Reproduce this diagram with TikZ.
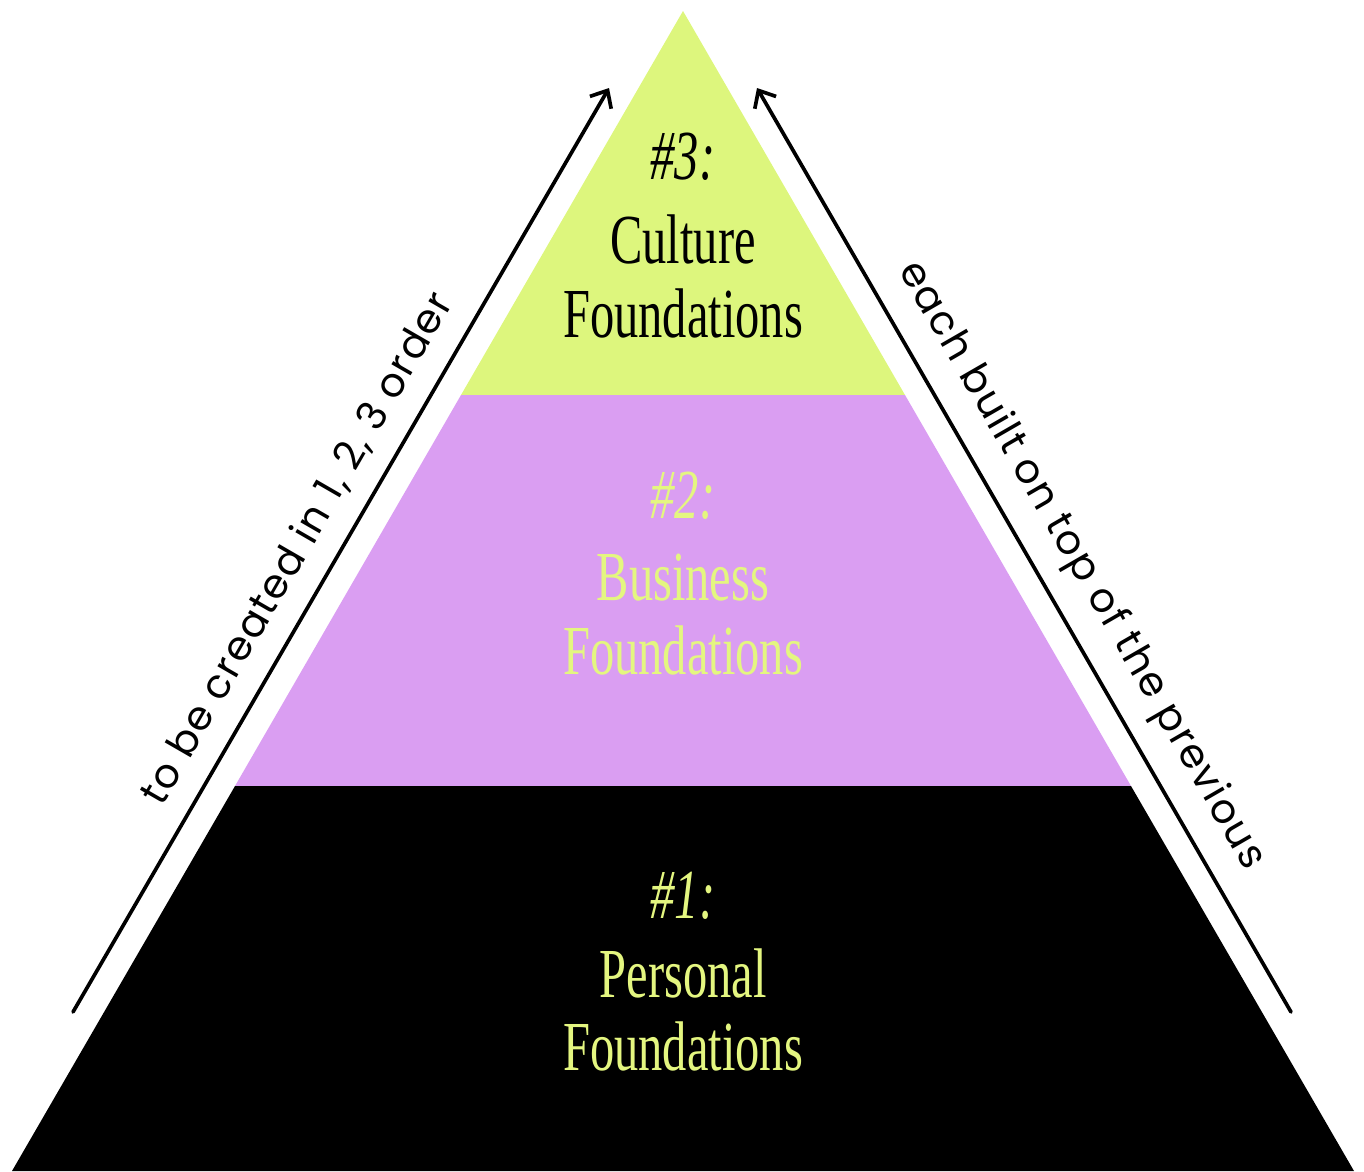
\documentclass[tikz,border=0pt]{standalone}
\usepackage{fontspec}
\usetikzlibrary{arrows.meta}
\newfontfamily\tierfont[FakeStretch=0.69]{Liberation Serif}
\newfontfamily\sidefont[LetterSpace=4]{Poppins}
\definecolor{limefill}{RGB}{221,246,125}
\definecolor{purplefill}{RGB}{218,158,242}
\definecolor{limetext}{RGB}{228,246,128}
\tikzset{
  tier/.style={anchor=base, inner sep=0pt, font=\tierfont\fontsize{40}{48}\selectfont},
  side/.style={inner sep=0pt, font=\sidefont\fontsize{23}{26}\selectfont},
  arr/.style={line width=2.1pt, line cap=round, -{Straight Barb[length=8pt,width=14pt,line width=2.1pt]}}
}
\begin{document}
\begin{tikzpicture}[x=0.02cm,y=-0.02cm]
\useasboundingbox (0,0) rectangle (1364,1171);
% tiers
\coordinate (apex) at (683,11);
\coordinate (a1) at (461,395); \coordinate (a2) at (905,395);
\coordinate (b1) at (235,786); \coordinate (b2) at (1131,786);
\coordinate (c1) at (12,1171); \coordinate (c2) at (1354,1171);
\fill[limefill] (apex) -- (a2) -- (a1) -- cycle;
\fill[purplefill] (a1) -- (a2) -- (b2) -- (b1) -- cycle;
\fill[black] (b1) -- (b2) -- (c2) -- (c1) -- cycle;
% tier texts
\node[tier, text=black] (t3a) at (683,179) {\itshape\#3:};
\node[tier, text=black] (t3b) at (683,263) {Culture};
\node[tier, text=black] (t3c) at (683,337) {Foundations};
\node[tier, text=limetext] (t2a) at (683,518) {\itshape\#2:};
\node[tier, text=limetext] (t2b) at (683,600) {Business};
\node[tier, text=limetext] (t2c) at (683,674) {Foundations};
\node[tier, text=limetext] (t1a) at (683,918) {\itshape\#1:};
\node[tier, text=limetext] (t1b) at (683,997) {Personal};
\node[tier, text=limetext] (t1c) at (683,1070) {Foundations};
% arrows
\coordinate (L1) at (73,1012); \coordinate (L2) at (609,88);
\coordinate (R1) at (1291,1012); \coordinate (R2) at (757,88);
\draw[arr] (L1) -- (L2);
\draw[arr] (R1) -- (R2);
\node[side, rotate=60] (lt) at (297,549) {to be created in 1, 2, 3 order};
\node[side, rotate=-60] (rt) at (1081,566) {each built on top of the previous};
\end{tikzpicture}
\end{document}
